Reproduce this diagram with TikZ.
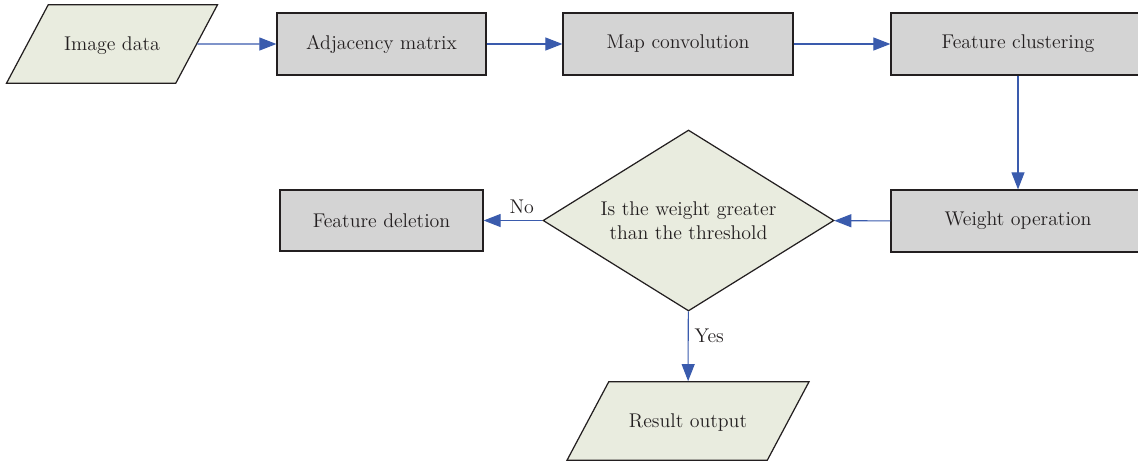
\documentclass[tikz,border=0pt]{standalone}
\usepackage{tikz}
\usetikzlibrary{shapes.geometric,arrows.meta}

\definecolor{datafill}{HTML}{E9ECDF}
\definecolor{procfill}{HTML}{D4D4D4}
\definecolor{linkblue}{HTML}{3A5BAD}
\definecolor{inkgray}{HTML}{231F20}

\begin{document}
\begin{tikzpicture}[
    font=\fontsize{11.3pt}{13.8pt}\selectfont, text=inkgray,
    procbox/.style={draw=inkgray, line width=0.7pt, fill=procfill,
        minimum height=1.24cm, inner sep=0pt},
    databox/.style={trapezium, trapezium left angle=62, trapezium right angle=118,
        trapezium stretches body=true, draw=inkgray, line width=0.7pt, fill=datafill,
        text height=0.40cm, text depth=0.13cm, inner ysep=0.52cm, inner xsep=0pt},
    decision/.style={diamond, aspect=1.61, draw=inkgray, line width=0.7pt, fill=datafill,
        minimum width=5.82cm, minimum height=3.62cm, inner sep=0pt, align=center},
    link/.style={draw=linkblue, line width=0.6pt,
        -{Triangle[length=0.34cm, width=0.26cm]}}
]
    \useasboundingbox (0,0) rectangle (22.76,-9.32);

    % Top row
    \node[databox, minimum width=4.22cm] (imgdata) at (2.24,-0.88) {Image data};
    \node[procbox, minimum width=4.18cm] (adjmat) at (7.63,-0.88) {Adjacency matrix};
    \node[procbox, minimum width=4.60cm] (mapconv) at (13.56,-0.88) {Map convolution};
    \node[procbox, minimum width=5.08cm] (featclus) at (20.36,-0.88) {Feature clustering};

    % Middle row
    \node[procbox, minimum width=5.08cm] (weightop) at (20.36,-4.42) {Weight operation};
    \node[decision] (check) at (13.77,-4.41) {Is the weight greater\\than the threshold};
    \node[procbox, minimum width=4.06cm, minimum height=1.22cm] (featdel) at (7.63,-4.41) {Feature deletion};

    % Bottom
    \node[databox, minimum width=4.84cm] (result) at (13.76,-8.42) {Result output};

    % Arrows
    \draw[link] (imgdata) -- (adjmat);
    \draw[link] (adjmat) -- (mapconv);
    \draw[link] (mapconv) -- (featclus);
    \draw[link] (featclus) -- (weightop);
    \draw[link] (weightop) -- (check);
    \draw[link] (check) -- node[above, pos=0.35, text=inkgray] {No} (featdel);
    \draw[link] (check) -- node[right, pos=0.35, text=inkgray] {Yes} (result);

\end{tikzpicture}
\end{document}
